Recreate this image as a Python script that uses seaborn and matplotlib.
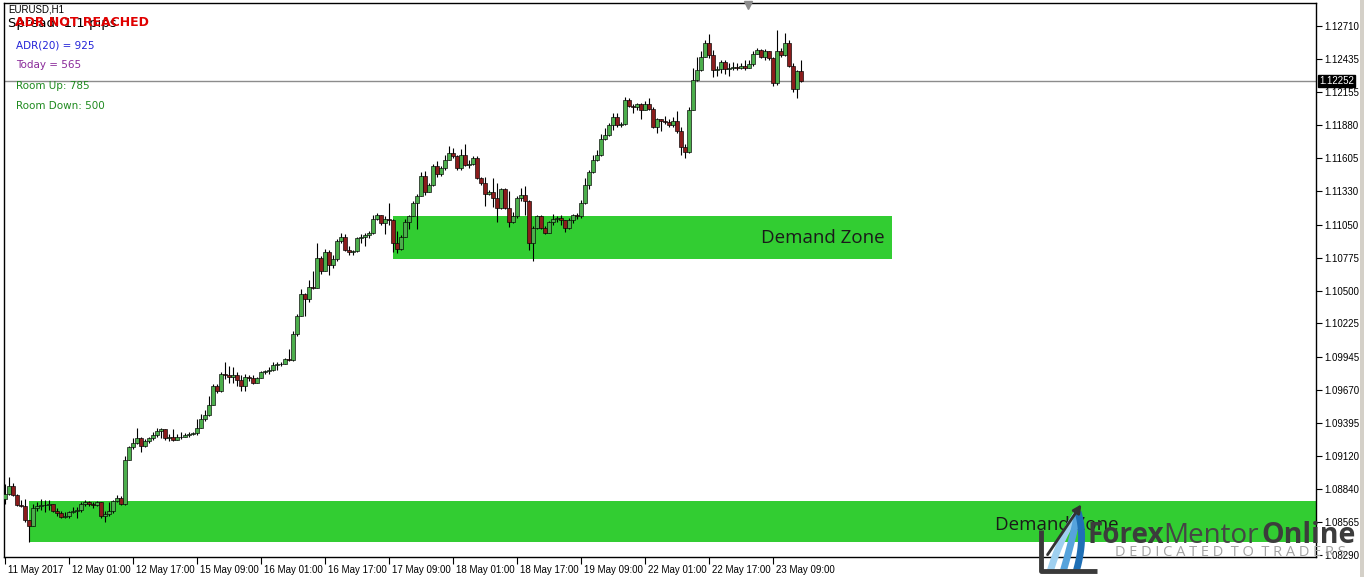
import numpy as np
import pandas as pd
import matplotlib.pyplot as plt
import matplotlib.transforms as mtransforms
from matplotlib.patches import Rectangle
import seaborn as sns

# EURUSD H1 candles, 11 May 2017 09:00 -> 23 May 2017 16:00
closes = [
    1.0880, 1.0887, 1.0879, 1.0871, 1.0870, 1.0858, 1.0853, 1.0868, 1.0870, 1.0871,
    1.0871, 1.0872, 1.0866, 1.0864, 1.0861, 1.0862, 1.0865, 1.0866, 1.0867, 1.0872,
    1.0873, 1.0872, 1.0871, 1.0873, 1.0862, 1.0863, 1.0866, 1.0874, 1.0877, 1.0872,
    1.0908, 1.0919, 1.0923, 1.0927, 1.0920, 1.0924, 1.0927, 1.0929, 1.0933, 1.0934,
    1.0927, 1.0928, 1.0925, 1.0928, 1.0928, 1.0929, 1.0930, 1.0931, 1.0935, 1.0943,
    1.0946, 1.0954, 1.0970, 1.0966, 1.0980, 1.0979, 1.0978, 1.0979, 1.0975, 1.0970,
    1.0978, 1.0977, 1.0973, 1.0977, 1.0982, 1.0983, 1.0984, 1.0988, 1.0989, 1.0989,
    1.0993, 1.0992, 1.1014, 1.1029, 1.1047, 1.1043, 1.1053, 1.1052, 1.1077, 1.1066,
    1.1082, 1.1071, 1.1076, 1.1091, 1.1095, 1.1084, 1.1082, 1.1083, 1.1094, 1.1095,
    1.1096, 1.1098, 1.1110, 1.1113, 1.1106, 1.1110, 1.1109, 1.1090, 1.1085, 1.1095,
    1.1107, 1.1112, 1.1123, 1.1129, 1.1146, 1.1132, 1.1138, 1.1154, 1.1147, 1.1152,
    1.1159, 1.1165, 1.1162, 1.1152, 1.1163, 1.1155, 1.1156, 1.1161, 1.1144, 1.1140,
    1.1131, 1.1132, 1.1127, 1.1119, 1.1135, 1.1119, 1.1107, 1.1112, 1.1127, 1.1130,
    1.1125, 1.1090, 1.1102, 1.1112, 1.1102, 1.1098, 1.1107, 1.1110, 1.1111, 1.1109,
    1.1102, 1.1109, 1.1113, 1.1112, 1.1123, 1.1138, 1.1149, 1.1159, 1.1163, 1.1177,
    1.1180, 1.1188, 1.1195, 1.1188, 1.1189, 1.1209, 1.1204, 1.1203, 1.1206, 1.1201,
    1.1206, 1.1202, 1.1187, 1.1193, 1.1192, 1.1191, 1.1188, 1.1192, 1.1183, 1.1170,
    1.1166, 1.1201, 1.1226, 1.1234, 1.1245, 1.1257, 1.1247, 1.1234, 1.1235, 1.1241,
    1.1235, 1.1236, 1.1237, 1.1236, 1.1238, 1.1236, 1.1239, 1.1248, 1.1251, 1.1245,
    1.1250, 1.1244, 1.1223, 1.1250, 1.1247, 1.1257, 1.1238, 1.1218, 1.1233, 1.1225,
]
highs = [
    1.0888, 1.0894, 1.0889, 1.0880, 1.0875, 1.0876, 1.0858, 1.0872, 1.0873, 1.0876,
    1.0875, 1.0875, 1.0872, 1.0868, 1.0866, 1.0865, 1.0866, 1.0869, 1.0869, 1.0873,
    1.0875, 1.0874, 1.0873, 1.0874, 1.0872, 1.0866, 1.0873, 1.0875, 1.0879, 1.0878,
    1.0912, 1.0920, 1.0927, 1.0935, 1.0928, 1.0926, 1.0928, 1.0932, 1.0935, 1.0935,
    1.0934, 1.0930, 1.0934, 1.0930, 1.0932, 1.0931, 1.0932, 1.0932, 1.0943, 1.0947,
    1.0950, 1.0962, 1.0972, 1.0972, 1.0982, 1.0990, 1.0987, 1.0986, 1.0982, 1.0979,
    1.0980, 1.0979, 1.0979, 1.0978, 1.0983, 1.0984, 1.0986, 1.0990, 1.0990, 1.0990,
    1.0994, 1.1001, 1.1016, 1.1030, 1.1051, 1.1048, 1.1059, 1.1066, 1.1090, 1.1079,
    1.1085, 1.1084, 1.1080, 1.1093, 1.1098, 1.1097, 1.1087, 1.1084, 1.1095, 1.1097,
    1.1098, 1.1100, 1.1113, 1.1115, 1.1113, 1.1112, 1.1123, 1.1110, 1.1100, 1.1096,
    1.1110, 1.1113, 1.1125, 1.1131, 1.1149, 1.1150, 1.1140, 1.1156, 1.1158, 1.1154,
    1.1163, 1.1171, 1.1169, 1.1163, 1.1168, 1.1172, 1.1159, 1.1162, 1.1162, 1.1145,
    1.1145, 1.1134, 1.1144, 1.1140, 1.1136, 1.1136, 1.1133, 1.1116, 1.1129, 1.1136,
    1.1137, 1.1126, 1.1104, 1.1113, 1.1113, 1.1104, 1.1108, 1.1114, 1.1112, 1.1113,
    1.1109, 1.1111, 1.1114, 1.1115, 1.1126, 1.1144, 1.1151, 1.1163, 1.1167, 1.1181,
    1.1186, 1.1190, 1.1198, 1.1198, 1.1191, 1.1212, 1.1211, 1.1206, 1.1207, 1.1207,
    1.1208, 1.1211, 1.1203, 1.1194, 1.1193, 1.1196, 1.1193, 1.1195, 1.1200, 1.1187,
    1.1172, 1.1203, 1.1236, 1.1245, 1.1250, 1.1259, 1.1264, 1.1251, 1.1238, 1.1243,
    1.1243, 1.1240, 1.1241, 1.1240, 1.1240, 1.1243, 1.1243, 1.1250, 1.1253, 1.1252,
    1.1252, 1.1250, 1.1245, 1.1268, 1.1253, 1.1265, 1.1259, 1.1240, 1.1234, 1.1243,
]
lows = [
    1.0872, 1.0879, 1.0878, 1.0870, 1.0869, 1.0857, 1.0840, 1.0853, 1.0866, 1.0867,
    1.0865, 1.0867, 1.0865, 1.0862, 1.0860, 1.0860, 1.0860, 1.0864, 1.0860, 1.0865,
    1.0870, 1.0870, 1.0868, 1.0870, 1.0860, 1.0857, 1.0862, 1.0864, 1.0873, 1.0871,
    1.0871, 1.0908, 1.0918, 1.0922, 1.0915, 1.0919, 1.0923, 1.0925, 1.0928, 1.0927,
    1.0925, 1.0924, 1.0924, 1.0925, 1.0926, 1.0928, 1.0928, 1.0929, 1.0929, 1.0935,
    1.0941, 1.0945, 1.0959, 1.0964, 1.0965, 1.0976, 1.0973, 1.0973, 1.0970, 1.0966,
    1.0966, 1.0974, 1.0972, 1.0973, 1.0977, 1.0980, 1.0980, 1.0983, 1.0984, 1.0987,
    1.0989, 1.0991, 1.0991, 1.1012, 1.1029, 1.1029, 1.1040, 1.1051, 1.1052, 1.1064,
    1.1066, 1.1063, 1.1069, 1.1075, 1.1090, 1.1083, 1.1080, 1.1080, 1.1082, 1.1090,
    1.1087, 1.1094, 1.1097, 1.1109, 1.1105, 1.1097, 1.1105, 1.1082, 1.1081, 1.1084,
    1.1101, 1.1101, 1.1112, 1.1101, 1.1129, 1.1130, 1.1132, 1.1137, 1.1145, 1.1146,
    1.1151, 1.1159, 1.1161, 1.1151, 1.1151, 1.1154, 1.1152, 1.1155, 1.1143, 1.1138,
    1.1121, 1.1130, 1.1120, 1.1107, 1.1118, 1.1118, 1.1103, 1.1106, 1.1111, 1.1125,
    1.1113, 1.1084, 1.1075, 1.1101, 1.1101, 1.1097, 1.1098, 1.1105, 1.1107, 1.1105,
    1.1099, 1.1101, 1.1106, 1.1110, 1.1111, 1.1122, 1.1135, 1.1148, 1.1158, 1.1162,
    1.1176, 1.1179, 1.1184, 1.1187, 1.1187, 1.1188, 1.1203, 1.1198, 1.1201, 1.1193,
    1.1201, 1.1201, 1.1186, 1.1182, 1.1183, 1.1189, 1.1187, 1.1187, 1.1182, 1.1163,
    1.1161, 1.1165, 1.1201, 1.1225, 1.1233, 1.1245, 1.1244, 1.1228, 1.1229, 1.1232,
    1.1231, 1.1229, 1.1234, 1.1234, 1.1235, 1.1234, 1.1237, 1.1238, 1.1248, 1.1244,
    1.1243, 1.1243, 1.1221, 1.1222, 1.1245, 1.1246, 1.1237, 1.1216, 1.1211, 1.1224,
]
first_open = 1.0876
last_price = 1.12252

time_labels = ['11 May 2017', '12 May 01:00', '12 May 17:00', '15 May 09:00',
               '16 May 01:00', '16 May 17:00', '17 May 09:00', '18 May 01:00',
               '18 May 17:00', '19 May 09:00', '22 May 01:00', '22 May 17:00',
               '23 May 09:00']
price_ticks = [1.12710, 1.12435, 1.12155, 1.11880, 1.11605, 1.11330, 1.11050,
               1.10775, 1.10500, 1.10225, 1.09945, 1.09670, 1.09395, 1.09120,
               1.08840, 1.08565, 1.08290]

# demand zones: (first bar, last bar, low price, high price)
zone_upper = (97, 221.75, 1.1076, 1.1112)
zone_lower = (6, 327.75, 1.0840, 1.0874)

info_lines = ['ADR(20) = 925', 'Today = 565', 'Room Up: 785', 'Room Down: 500']

df = pd.DataFrame({'close': closes, 'high': highs, 'low': lows})
df['open'] = df['close'].shift(1).fillna(first_open)
df['high'] = df[['high', 'open', 'close']].max(axis=1)
df['low'] = df[['low', 'open', 'close']].min(axis=1)
df['bar'] = np.arange(len(df))
df['up'] = df['close'] >= df['open']

sns.set_theme(style='white')
plt.rcParams['font.family'] = ['Liberation Sans', 'DejaVu Sans']

W, H = 1364, 577
fig = plt.figure(figsize=(W / 100, H / 100), dpi=100)
fig.patch.set_facecolor('white')
ax = fig.add_axes([4 / W, 1 - 557 / H, 1312 / W, 554 / H])
ax.set_facecolor('white')

x_max = 327.75
ax.set_xlim(-0.25, x_max)
ax.set_ylim(1.082735, 1.129022)

# zones
for x0, x1, lo, hi in [zone_upper, zone_lower]:
    ax.add_patch(Rectangle((x0, lo), x1 - x0, hi - lo, facecolor='#32cd32',
                           edgecolor='none', zorder=1))

ax.axhline(last_price, color='#8c8c8c', lw=1, zorder=1.5)

# candles
ax.vlines(df['bar'], df['low'], df['high'], color='black', lw=0.8, zorder=2)
body_colors = np.where(df['up'], '#4cae4c', '#8b1c1c')
ax.bar(df['bar'], df['close'] - df['open'], bottom=df['open'], width=0.82,
       color=body_colors, edgecolor='black', linewidth=0.45, zorder=3)

ax.text(220, 1.10939, 'Demand Zone', ha='right', va='center', fontsize=13.5,
        family='Open Sans', color='#1a1a1a', zorder=4)
ax.text(247.5, 1.08541, 'Demand Zone', ha='left', va='center', fontsize=13.5,
        family='Open Sans', color='#1a1a1a', zorder=4)

# axes styling
for s in ax.spines.values():
    s.set_color('black')
    s.set_linewidth(1)
ax.yaxis.tick_right()
ax.set_yticks(price_ticks)
ax.set_yticklabels([f'{p:.5f}' for p in price_ticks])
ax.tick_params(axis='y', right=True, left=False, direction='out', length=4,
               width=0.8, pad=2, labelsize=7, colors='black')
ax.set_xticks(np.arange(0, 16 * len(time_labels), 16))
ax.set_xticklabels(time_labels)
ax.tick_params(axis='x', bottom=True, direction='out', length=5, width=0.8,
               pad=1, labelsize=7, colors='black')
shift = mtransforms.ScaledTranslation(2 / 72, 0, fig.dpi_scale_trans)
for lab in ax.get_xticklabels():
    lab.set_horizontalalignment('left')
    lab.set_transform(lab.get_transform() + shift)

# current price tag
blend = mtransforms.blended_transform_factory(ax.transAxes, ax.transData)
ax.text(1.0025, last_price, f'{last_price:.5f}', transform=blend, color='white',
        fontsize=7, va='center', ha='left', zorder=6, clip_on=False,
        bbox=dict(boxstyle='square,pad=0.12', fc='black', ec='black'))

# chart shift marker
ax.plot([185.75], [1.12885], marker='v', ms=6, color='#8c8c8c', clip_on=False,
        zorder=5)

# info text top-left
def fx(x):
    return x / W

def fy(y):
    return 1 - y / H

fig.text(fx(8), fy(10), 'EURUSD,H1', fontsize=7, va='center', color='black')
fig.text(fx(8), fy(23), 'Spread: 1.1 pips', fontsize=9.5, va='center',
         color='black', family='DejaVu Sans')
fig.text(fx(15), fy(23), 'ADR NOT REACHED', fontsize=9, va='center',
         color='#e00000', weight='bold', family='DejaVu Sans')
info_colors = ['#2323d8', '#8a2a9a', '#1f8a1f', '#1f8a1f']
for i, (txt, c) in enumerate(zip(info_lines, info_colors)):
    fig.text(fx(16), fy(45 + 20.3 * i), txt, fontsize=7.5, va='center',
             color=c, family='DejaVu Sans')

# window frame strip
fig.patches.append(Rectangle((fx(1360), 0), 4 / W, 1, transform=fig.transFigure,
                             facecolor='#d4d0c8', edgecolor='none'))

# watermark logo
lax = fig.add_axes([fx(1030), 0, (W - 1030) / W, 82 / H])
lax.set_xlim(1030, W)
lax.set_ylim(577, 495)
lax.axis('off')
lax.patch.set_alpha(0)
t = np.linspace(0, 1, 30)
for k, c in enumerate(['#9fd0f0', '#56a3dc', '#1f6fb5']):
    p0 = np.array([1050 + 13 * k, 572])
    p1 = np.array([1060 + 13 * k, 538])
    p2 = np.array([1078, 512])
    pts = ((1 - t) ** 2)[:, None] * p0 + (2 * t * (1 - t))[:, None] * p1 + (t ** 2)[:, None] * p2
    lax.plot(pts[:, 0], pts[:, 1], color=c, lw=5, solid_capstyle='butt')
lax.annotate('', xy=(1083, 502), xytext=(1046, 557),
             arrowprops=dict(arrowstyle='-|>', color='#333333', lw=2,
                             mutation_scale=12))
lax.plot([1041, 1041, 1097], [530, 571, 571], color='#3a3a3a', lw=3.5,
         solid_capstyle='butt')
lax.text(1088, 543, 'Forex', fontsize=20, weight='bold', color='#3c3c3c',
         family='Open Sans', va='baseline')
lax.text(1163, 543, 'Mentor', fontsize=20, color='#454545',
         family='Open Sans', va='baseline')
lax.text(1261, 543, 'Online', fontsize=20.5, weight='bold', color='#3c3c3c',
         family='Open Sans', va='baseline')
lax.text(1115, 553, '  '.join(['D E D I C A T E D', 'T O', 'T R A D E R S']),
         fontsize=10.5, color='#a3a3a3', family='Open Sans', va='center')

fig.savefig('out.png', dpi=100)
